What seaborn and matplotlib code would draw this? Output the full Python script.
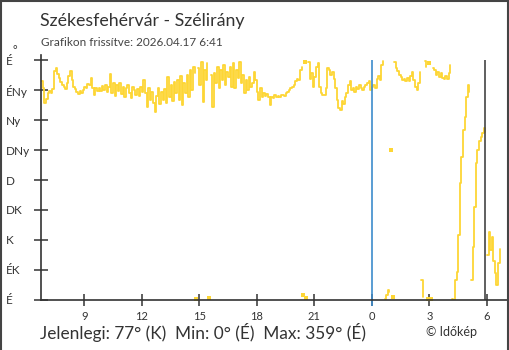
import numpy as np
import pandas as pd
import matplotlib
matplotlib.use("Agg")
import matplotlib.pyplot as plt
import matplotlib.dates as mdates
from matplotlib.ticker import FuncFormatter
from matplotlib.lines import Line2D
import seaborn as sns

# Wind direction (degrees), 5-minute samples starting 2026-04-16 06:45
start_time = "2026-04-16 06:45"
sample_step = "5min"
direction = [
    328, 318, 295, 302, 311, 314, 310, 316, 343, 348, 339, 333,
    327, 322, 320, 317, 325, 336, 343, 330, 320, 316, 312, 309,
    314, 310, 315, 320, 318, 324, 322, 333, 318, 307, 318, 313,
    318, 313, 321, 315, 323, 312, 319, 339, 310, 326, 306, 322,
    314, 325, 309, 320, 305, 318, 323, 311, 303, 320, 315, 308,
    317, 306, 320, 312, 330, 310, 290, 318, 300, 312, 296, 282,
    306, 318, 294, 312, 300, 317, 296, 334, 305, 322, 298, 327,
    310, 330, 300, 336, 293, 325, 310, 337, 305, 345, 315, 350,
    340, 2, 348, 322, 357, 297, 345, 330, 355, 3, 338, 290,
    340, 325, 350, 318, 345, 330, 352, 322, 342, 335, 350, 320,
    355, 318, 345, 333, 357, 325, 338, 310, 330, 315, 335, 320,
    325, 342, 330, 312, 300, 318, 305, 310, 306, 309, 304, 292,
    305, 303, 307, 304, 306, 305, 307, 308, 306, 310, 312, 315,
    318, 320, 323, 328, 332, 330, 345, 350, 8, 357, 3, 357,
    332, 340, 320, 335, 350, 355, 320, 310, 307, 308, 318, 348,
    345, 338, 342, 332, 318, 300, 288, 285, 298, 294, 305, 310,
    322, 328, 315, 318, 312, 320, 316, 322, 318, 315, 320, 322,
    325, 328, 315, 320, 322, 318, 332, 336, 330, 352, 358, 1,
    8, 15, 12, 225, 4, 357, 348, 343, 338, 335, 330, 332,
    328, 333, 329, 336, 342, 330, 320, 315, 325, 342, 30, 5,
    359, 350, 2, 355, 1, 348, 345, 337, 342, 335, 340, 333,
    332, 336, 331, 340, 352, 1, 0, 30, 42, 98, 175, 215,
    255, 275, 305, 322, 312, 30, 80, 140, 205, 225, 238, 245,
    250, 258, 252, 68, 102, 75, 95, 58, 40, 22, 55, 77,
]

compass_degrees = [0, 45, 90, 135, 180, 225, 270, 315, 360]
compass_labels = ["É", "ÉK", "K", "DK", "D", "DNy", "Ny", "ÉNy", "É"]
hour_ticks = [0, 3, 6, 9, 12, 15, 18, 21]
day_change = "2026-04-17 00:00"
sunrise = "2026-04-17 05:54"
x_start = "2026-04-16 06:44:30"
x_end = "2026-04-17 07:06"

title = "Székesfehérvár - Szélirány"
subtitle = "Grafikon frissítve: 2026.04.17 6:41"
summary = "Jelenlegi: 77° (K)  Min: 0° (É)  Max: 359° (É)"
credit = "© Időkép"

yellow = "#fdd635"
ink = "#333333"

times = pd.date_range(start_time, periods=len(direction), freq=sample_step)
df = pd.DataFrame({"time": times, "deg": direction})
# a new segment starts wherever the direction wraps across north
df["seg"] = (df["deg"].diff().abs() > 180).cumsum()
seg_size = df.groupby("seg")["deg"].transform("size")
lines_df = df[seg_size > 1]
dots_df = df[seg_size == 1]

sns.set_theme(style="white")
plt.rcParams["font.family"] = ["Lato", "DejaVu Sans"]

W, H = 510, 350
fig = plt.figure(figsize=(W / 100, H / 100), dpi=100)
ax = fig.add_axes([41 / W, 50 / H, (508 - 41) / W, (300 - 55) / H])

sns.lineplot(data=lines_df, x="time", y="deg", units="seg", estimator=None,
             color=yellow, lw=1.3, drawstyle="steps-post", ax=ax, legend=False)
sns.scatterplot(data=dots_df, x="time", y="deg", color=yellow, marker="s",
                s=9, linewidth=0, ax=ax, legend=False)

ax.vlines(pd.Timestamp(day_change), -9, 360, color="#3d8ccc", lw=1.2, clip_on=False)
ax.vlines(pd.Timestamp(sunrise), 0, 360, color="#444444", lw=1.2)

ax.set_xlim(pd.Timestamp(x_start), pd.Timestamp(x_end))
ax.set_ylim(0, 367.5)
ax.xaxis.set_major_locator(mdates.HourLocator(byhour=hour_ticks))
ax.xaxis.set_major_formatter(FuncFormatter(lambda v, p: str(mdates.num2date(v).hour)))
ax.set_yticks(compass_degrees, compass_labels)
ax.set_xlabel("")
ax.set_ylabel("")

for side in ("top", "right"):
    ax.spines[side].set_visible(False)
for side in ("left", "bottom"):
    ax.spines[side].set_color(ink)
    ax.spines[side].set_linewidth(1.2)

ax.tick_params(axis="x", bottom=True, direction="inout", length=8.6, width=1.1,
               color=ink, labelcolor=ink, labelsize=8, pad=3.5)
ax.tick_params(axis="y", left=True, direction="inout", length=9.4, width=1.1,
               color=ink, labelcolor=ink, labelsize=8.5, pad=25.2 - 4.7)
for lbl in ax.get_yticklabels():
    lbl.set_horizontalalignment("left")

fig.text(40 / W, 1 - 26 / H, title, fontsize=12.8, color=ink, va="baseline")
fig.text(41 / W, 1 - 45.5 / H, subtitle, fontsize=8.5, color="#444444", va="baseline")
fig.text(13 / W, 1 - 54 / H, "°", fontsize=8, color=ink, va="baseline")
fig.text(40 / W, 1 - 339 / H, summary, fontsize=12.4, color=ink, va="baseline")
fig.text(426 / W, 1 - 336 / H, credit, fontsize=9, color=ink, va="baseline")

# frame around the image
for xs, ys in (([0.5, 0.5], [0, H]), ([W - 1.5, W - 1.5], [0, H]), ([0, W], [1, 1])):
    fig.add_artist(Line2D([x / W for x in xs], [1 - y / H for y in ys],
                          color="#444444", lw=1.5))

fig.savefig("out.png", dpi=100)
